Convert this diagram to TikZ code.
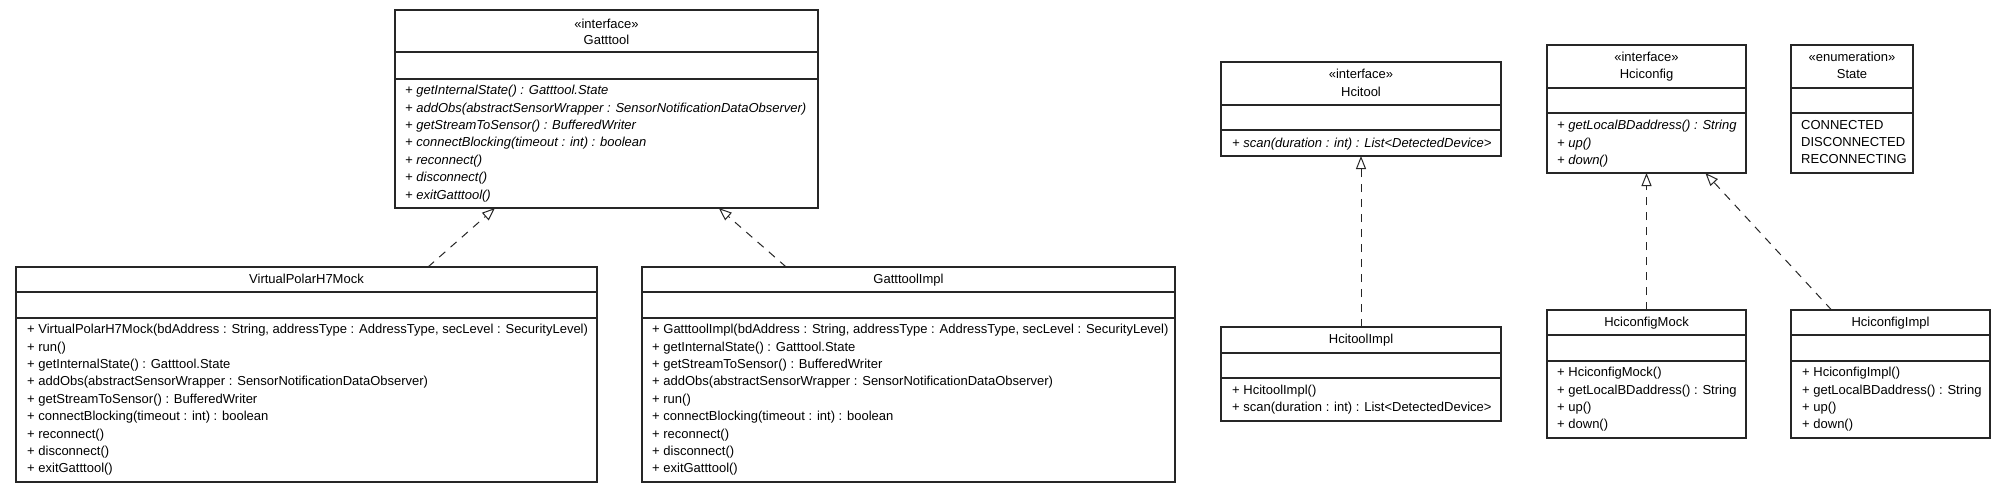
\documentclass[tikz,border=0pt]{standalone}
\usepackage{fontspec}
\setmainfont{Liberation Sans}
\usetikzlibrary{arrows.meta}
\newcommand\umlfont{\fontsize{13}{15}\selectfont}
\tikzset{
  cls/.style={draw=black!85, line width=1.3pt, rectangle, inner sep=0pt, outer sep=0pt, anchor=north west},
  divline/.style={draw=black!85, line width=1.3pt},
  txt/.style={inner sep=0pt, text height=9.4pt, text depth=0pt, font=\umlfont},
  mth/.style={txt, anchor=west},
  ttl/.style={txt, anchor=center},
  realize/.style={draw=black!85, line width=1pt, dash pattern=on 8pt off 7pt, -{Triangle[open, length=13pt, width=10pt]}},
}
% name, x1, y1, width, height, divider 1, divider 2
\newcommand\umlcls[7]{%
  \node[cls, minimum width=#4pt, minimum height=#5pt] (#1) at (#2,#3) {};
  \draw[divline] (#2,#6) -- ++(#4,0);
  \draw[divline] (#2,#7) -- ++(#4,0);}
% prefix, x, y0, font extra, list
\newcommand\umlrows[5]{%
  \foreach \rowtext [count=\i from 0] in {#5} {\node[mth, font=\umlfont#4] (#1\i) at (#2, #3+17.4*\i) {\rowtext};}}
\begin{document}
\begin{tikzpicture}[x=1pt,y=-1pt]
\useasboundingbox (0,0) rectangle (2005,492);
\fill[white] (0,0) rectangle (2005,492);
% Gatttool
\umlcls{gt}{395}{10}{423}{198}{52}{79}
\node[ttl] (gts) at (606.5,24) {«interface»};
\node[ttl] (gtn) at (606.5,40) {Gatttool};
\umlrows{gtm}{405}{90}{\itshape}{+ getInternalState() : Gatttool.State, + addObs(abstractSensorWrapper : SensorNotificationDataObserver), + getStreamToSensor() : BufferedWriter, + connectBlocking(timeout : int) : boolean, + reconnect(), + disconnect(), + exitGatttool()}
% VirtualPolarH7Mock
\umlcls{vph}{16}{267}{581}{215}{292}{318}
\node[ttl] (vphn) at (306.5,279) {VirtualPolarH7Mock};
\umlrows{vphm}{27}{329}{}{{+ VirtualPolarH7Mock(bdAddress : String, addressType : AddressType, secLevel : SecurityLevel)}, + run(), + getInternalState() : Gatttool.State, + addObs(abstractSensorWrapper : SensorNotificationDataObserver), + getStreamToSensor() : BufferedWriter, + connectBlocking(timeout : int) : boolean, + reconnect(), + disconnect(), + exitGatttool()}
% GatttoolImpl
\umlcls{gti}{642}{267}{533}{215}{292}{318}
\node[ttl] (gtin) at (908.5,279) {GatttoolImpl};
\umlrows{gtim}{652}{329}{}{{+ GatttoolImpl(bdAddress : String, addressType : AddressType, secLevel : SecurityLevel)}, + getInternalState() : Gatttool.State, + getStreamToSensor() : BufferedWriter, + addObs(abstractSensorWrapper : SensorNotificationDataObserver), + run(), + connectBlocking(timeout : int) : boolean, + reconnect(), + disconnect(), + exitGatttool()}
% Hcitool
\umlcls{ht}{1221}{62}{280}{94}{105}{130}
\node[ttl] (hts) at (1361,74) {«interface»};
\node[ttl] (htn) at (1361,92) {Hcitool};
\umlrows{htm}{1232}{143}{\itshape}{+ scan(duration : int) : List<DetectedDevice>}
% HcitoolImpl
\umlcls{hti}{1221}{327}{280}{94}{353}{378}
\node[ttl] (htin) at (1361,339) {HcitoolImpl};
\umlrows{htim}{1232}{389.5}{}{+ HcitoolImpl(), + scan(duration : int) : List<DetectedDevice>}
% Hciconfig
\umlcls{hc}{1547}{45}{199}{128}{88}{113}
\node[ttl] (hcs) at (1646.5,57) {«interface»};
\node[ttl] (hcn) at (1646.5,74) {Hciconfig};
\umlrows{hcm}{1557}{125}{\itshape}{+ getLocalBDaddress() : String, + up(), + down()}
% State
\umlcls{st}{1791}{45}{122}{128}{88}{113}
\node[ttl] (sts) at (1852,57) {«enumeration»};
\node[ttl] (stn) at (1852,74) {State};
\umlrows{stm}{1801}{124.5}{}{CONNECTED, DISCONNECTED, RECONNECTING}
% HciconfigMock
\umlcls{hcmk}{1547}{310}{199}{128}{335}{361}
\node[ttl] (hcmkn) at (1646.5,322) {HciconfigMock};
\umlrows{hcmkm}{1557}{372}{}{+ HciconfigMock(), + getLocalBDaddress() : String, + up(), + down()}
% HciconfigImpl
\umlcls{hci}{1791}{310}{199}{128}{335}{361}
\node[ttl] (hcin) at (1890.5,322) {HciconfigImpl};
\umlrows{hcim}{1802}{372}{}{+ HciconfigImpl(), + getLocalBDaddress() : String, + up(), + down()}
% realizations
\draw[realize] (vph) -- (gt);
\draw[realize] (gti) -- (gt);
\draw[realize] (hti) -- (ht);
\draw[realize] (hcmk) -- (hc);
\draw[realize] (hci) -- (hc);
\end{tikzpicture}
\end{document}
